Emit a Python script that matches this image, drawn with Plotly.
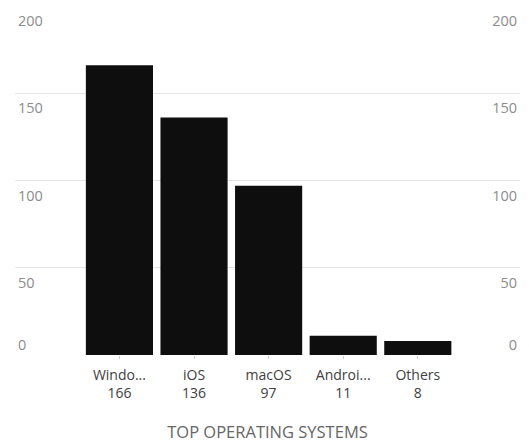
import plotly.graph_objects as go

os_names = ["Windo...", "iOS", "macOS", "Androi...", "Others"]
counts = [166, 136, 97, 11, 8]
y_ticks = [0, 50, 100, 150, 200]
y_tick_text = ["0", "50", "100", "150", "200"]

x_pos = list(range(len(os_names)))
tick_text = [f"{n}<br>{c}" for n, c in zip(os_names, counts)]

FONT = "Open Sans, Roboto, sans-serif"
fig = go.Figure()
fig.add_trace(go.Bar(x=x_pos, y=counts, marker=dict(color="#0e0e0e", line=dict(width=0)),
                     width=0.9, showlegend=False, hoverinfo="skip"))
for ax in ["y2", "y3", "y4"]:
    fig.add_trace(go.Scatter(x=[x_pos[0]], y=[0], yaxis=ax, mode="markers",
                             marker=dict(opacity=0), showlegend=False, hoverinfo="skip"))

lab_font = dict(family=FONT, size=14.5, color="#8c8c8c")
nz_vals = y_ticks[1:]
nz_text = y_tick_text[1:]
YR = [0, 200.5]
common = dict(range=YR, showline=False, zeroline=False, fixedrange=True, automargin=False)

fig.update_layout(
    width=529, height=443,
    margin=dict(l=15, r=9, t=5, b=88, autoexpand=False),
    paper_bgcolor="white", plot_bgcolor="white",
    xaxis=dict(range=[-1.4, 5.37], tickvals=x_pos, ticktext=tick_text,
               showgrid=False, zeroline=False, showline=False, automargin=False,
               ticks="outside", ticklen=3, tickcolor="#cccccc", ticklabelstandoff=4,
               tickfont=dict(family=FONT, size=14, color="#404040"),
               title=dict(text="TOP OPERATING SYSTEMS",
                          font=dict(family=FONT, size=16.5, color="#666666"),
                          standoff=26)),
    yaxis=dict(**common, tickvals=nz_vals, ticktext=nz_text,
               ticklabelposition="inside bottom", ticklabelshift=5, showgrid=True,
               gridcolor="#e4e4e4", gridwidth=1, tickfont=lab_font),
    yaxis2=dict(**common, overlaying="y", side="right", anchor="x", tickvals=nz_vals,
                ticktext=nz_text, ticklabelposition="inside bottom", ticklabelshift=5,
                showgrid=False, tickfont=lab_font),
    yaxis3=dict(**common, overlaying="y", side="left", tickvals=y_ticks[:1],
                ticktext=y_tick_text[:1], ticklabelposition="inside top",
                showgrid=True, gridcolor="#d2d2d2", gridwidth=1, tickfont=lab_font),
    yaxis4=dict(**common, overlaying="y", side="right", anchor="x", tickvals=y_ticks[:1],
                ticktext=y_tick_text[:1], ticklabelposition="inside top",
                showgrid=False, tickfont=lab_font),
)

fig.write_html("out.html", config={"displayModeBar": False},
               post_script="document.body.style.margin='0';")
